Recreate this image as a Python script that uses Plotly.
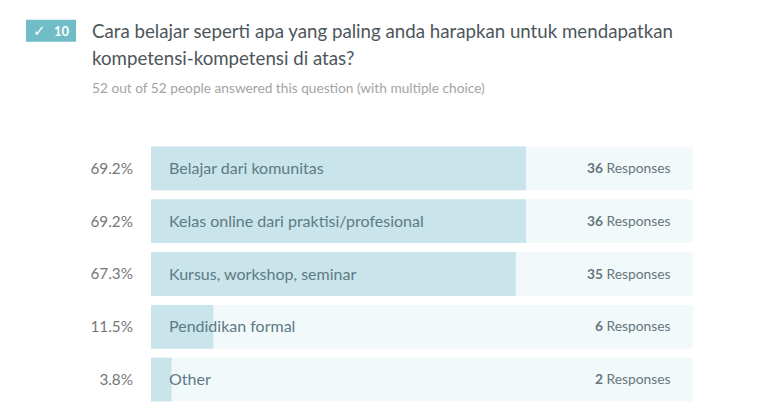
import plotly.graph_objects as go

title_lines = ['Cara belajar seperti apa yang paling anda harapkan untuk mendapatkan',
               'kompetensi-kompetensi di atas?']
subtitle = '52 out of 52 people answered this question (with multiple choice)'
question_no = '10'
categories = ['Belajar dari komunitas', 'Kelas online dari praktisi/profesional',
              'Kursus, workshop, seminar', 'Pendidikan formal', 'Other']
percents = [69.2, 69.2, 67.3, 11.5, 3.8]
responses = [36, 36, 35, 6, 2]
full = [100, 100, 100, 100, 100]

W, H = 774, 416
L, R, T, B = 151, 693, 141.5, 406
FONT = 'Lato'

fig = go.Figure()
fig.add_trace(go.Bar(y=categories, x=full, orientation='h', marker_color='#f2f9fb',
                     marker_line_width=0, width=0.83, hoverinfo='skip'))
fig.add_trace(go.Bar(y=categories, x=percents, orientation='h', marker_color='#c9e4ea',
                     marker_line_width=0, width=0.83))

# bar labels and response counts
for c, r in zip(categories, responses):
    fig.add_annotation(x=0, y=c, text=c, xanchor='left', xshift=16, yshift=1, showarrow=False,
                       font=dict(family=FONT, size=16, color='#5d7a86'))
    fig.add_annotation(x=100, y=c, text='<b>%d</b> Responses' % r, xanchor='right', xshift=-20,
                       yshift=1, showarrow=False, font=dict(family=FONT, size=13.8, color='#66757c'))

# header, positioned in pixels (paper coordinates are relative to the plot area)
def px(x, y):
    return (x - L) / (R - L), (B - y) / (B - T)

for text, y in zip(title_lines, [30, 57]):
    xp, yp = px(92, y)
    fig.add_annotation(xref='paper', yref='paper', x=xp, y=yp, text=text, xanchor='left',
                       yanchor='middle', showarrow=False, xshift=-2,
                       font=dict(family=FONT, size=18.7, color='#4c565b'))
xp, yp = px(92, 87)
fig.add_annotation(xref='paper', yref='paper', x=xp, y=yp, text=subtitle, xanchor='left',
                   yanchor='middle', showarrow=False, xshift=-2,
                   font=dict(family=FONT, size=13.7, color='#a3a3a3'))

x0, y1 = px(26, 19)
x1, y0 = px(76, 41)
fig.add_shape(type='rect', xref='paper', yref='paper', x0=x0, x1=x1, y0=y0, y1=y1,
              fillcolor='#70bcc7', line_width=0)
xp, yp = px(62, 30)
fig.add_annotation(xref='paper', yref='paper', x=xp, y=yp, text='<b>' + question_no + '</b>',
                   xanchor='center', yanchor='middle', showarrow=False,
                   font=dict(family=FONT, size=13, color='white'))
xp, yp = px(39, 30)
fig.add_annotation(xref='paper', yref='paper', x=xp, y=yp, text='✓',
                   xanchor='center', yanchor='middle', showarrow=False,
                   font=dict(family='DejaVu Sans', size=15, color='white'))

fig.update_layout(
    width=W, height=H,
    margin=dict(l=L, r=W - R, t=T, b=H - B),
    barmode='overlay',
    barcornerradius=3,
    bargap=0.17,
    showlegend=False,
    plot_bgcolor='white',
    paper_bgcolor='white',
)
fig.update_xaxes(range=[0, 100], visible=False, fixedrange=True)
fig.update_yaxes(categoryorder='array', categoryarray=categories, autorange='reversed',
                 tickmode='array', tickvals=categories, ticktext=['%.1f%%' % p for p in percents],
                 showgrid=False, zeroline=False, showline=False, ticks='', ticklabelstandoff=17,
                 tickfont=dict(family=FONT, size=15.3, color='#777777'))
fig.write_html('out.html', config=dict(displayModeBar=False),
               post_script="document.body.style.margin='0';")
